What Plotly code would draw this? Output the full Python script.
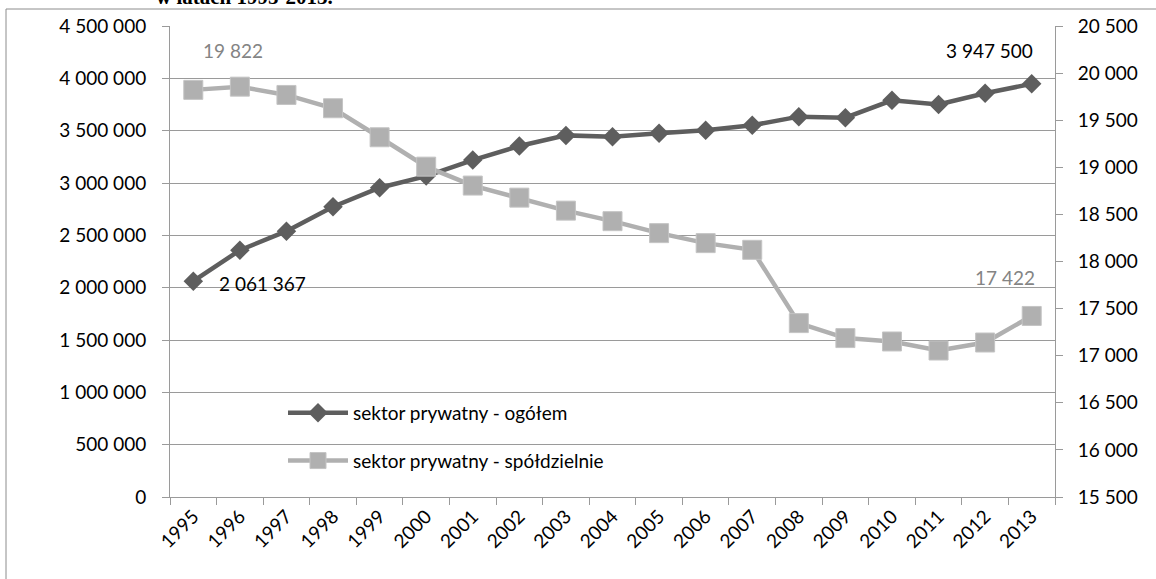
import plotly.graph_objects as go

years = [str(y) for y in range(1995, 2014)]
ogolem = [2061367, 2358000, 2540000, 2773000, 2955000, 3066000, 3219000, 3353000,
          3455000, 3442000, 3476000, 3503000, 3551000, 3634000, 3624000, 3790000,
          3751000, 3857000, 3947500]
spoldzielnie = [19822, 19856, 19768, 19627, 19319, 19007, 18806, 18678, 18540,
                18428, 18301, 18195, 18124, 17346, 17187, 17151, 17055, 17140, 17422]
name_ogolem = "sektor prywatny - ogółem"
name_spold = "sektor prywatny - spółdzielnie"
title_text = "w latach 1995-2013."

FONT = "Lato, 'Open Sans', sans-serif"
DARK = "#5e5e5e"
LIGHT = "#b0b0b0"
GRID = "#9a9a9a"
W, H = 1156, 579
L, R, T, B = 170, 101, 26, 82
PW, PH = W - L - R, H - T - B


def fmt(v):
    return f"{v:,}".replace(",", " ")


def px_x(px):
    return (px - L) / PW


def px_y(py):
    return (H - B - py) / PH


first, last = 0, len(years) - 1

fig = go.Figure()
fig.add_trace(go.Scatter(
    x=years, y=ogolem, name=name_ogolem, mode="lines+markers",
    line=dict(color=DARK, width=4.5),
    marker=dict(symbol="diamond", size=15, color=DARK),
    legendgroup="a", yaxis="y"))
fig.add_trace(go.Scatter(
    x=years, y=spoldzielnie, name=name_spold, mode="lines+markers",
    line=dict(color=LIGHT, width=4.5),
    marker=dict(symbol="square", size=19, color=LIGHT,
                line=dict(color="#c4c4c4", width=1)),
    legendgroup="b", yaxis="y2"))

annotations = [
    dict(x=first, y=spoldzielnie[first], xref="x", yref="y2", text=fmt(spoldzielnie[first]),
         showarrow=False, xshift=40, yshift=39,
         font=dict(family=FONT, size=19, color="#848484")),
    dict(x=last, y=spoldzielnie[last], xref="x", yref="y2", text=fmt(spoldzielnie[last]),
         showarrow=False, xshift=-27, yshift=38,
         font=dict(family=FONT, size=19, color="#848484")),
    dict(x=first, y=ogolem[first], xref="x", yref="y", text=fmt(ogolem[first]),
         showarrow=False, xshift=69, yshift=-2,
         font=dict(family=FONT, size=19, color="#000000")),
    dict(x=last, y=ogolem[last], xref="x", yref="y", text=fmt(ogolem[last]),
         showarrow=False, xshift=-42, yshift=33,
         font=dict(family=FONT, size=19, color="#000000")),
    dict(xref="paper", yref="paper", x=px_x(155), y=px_y(10),
         xanchor="left", yanchor="bottom", text="<b>" + title_text + "</b>",
         showarrow=False, borderpad=0,
         font=dict(family="'Liberation Serif', serif", size=21, color="#000000")),
]

shapes = [
    dict(type="rect", xref="paper", yref="paper",
         x0=px_x(6), x1=px_x(1170), y0=px_y(9), y1=px_y(600),
         line=dict(color="#8c8c8c", width=1), layer="below"),
]

fig.update_layout(
    width=W, height=H,
    margin=dict(l=L, r=R, t=T, b=B),
    paper_bgcolor="white", plot_bgcolor="white",
    separators=", ",
    font=dict(family=FONT, size=19, color="#000000"),
    showlegend=True,
    legend=dict(x=px_x(283), y=px_y(394), xanchor="left", yanchor="top",
                bgcolor="rgba(0,0,0,0)", font=dict(family=FONT, size=19, color="#000"),
                itemwidth=60, tracegroupgap=20, traceorder="grouped"),
    annotations=annotations,
    shapes=shapes,
    xaxis=dict(type="category", range=[-0.5, len(years) - 0.5],
               tickangle=-45, tickson="boundaries",
               ticks="outside", ticklen=7, tickcolor=GRID,
               showline=True, linecolor=GRID, linewidth=1,
               showgrid=False, tickfont=dict(family=FONT, size=19, color="#000")),
    yaxis=dict(range=[0, 4500000], dtick=500000, tickformat=",d",
               ticks="outside", ticklen=7, tickcolor=GRID,
               showline=True, linecolor=GRID, linewidth=1,
               showgrid=True, gridcolor=GRID, gridwidth=1, zeroline=False,
               ticklabelstandoff=12,
               tickfont=dict(family=FONT, size=19, color="#000")),
    yaxis2=dict(range=[15500, 20500], dtick=500, tickformat=",d",
                overlaying="y", side="right",
                ticks="outside", ticklen=7, tickcolor=GRID,
                showline=True, linecolor=GRID, linewidth=1,
                showgrid=False, zeroline=False, ticklabelstandoff=11,
                tickfont=dict(family=FONT, size=19, color="#000")),
)

fig.write_html("out.html", config={"displayModeBar": False},
               post_script="document.body.style.margin='0';document.body.style.overflow='hidden';")
